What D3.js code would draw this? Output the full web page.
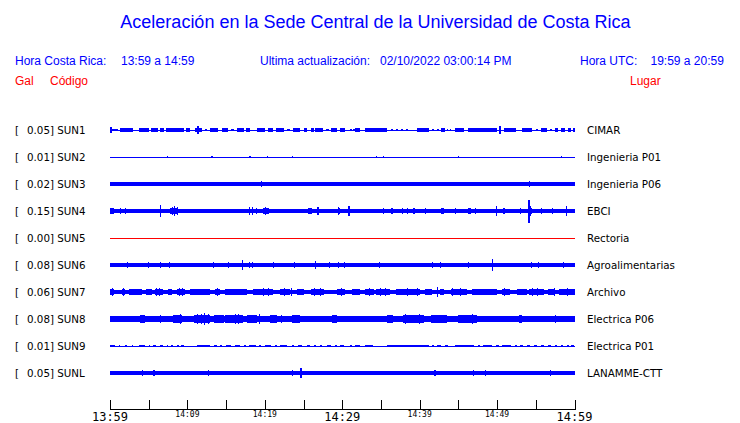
<!DOCTYPE html>
<html><head><meta charset="utf-8">
<script src="https://cdn.jsdelivr.net/npm/d3@7"></script>
<style>html,body{margin:0;padding:0;background:#fff;overflow:hidden}</style>
</head><body><svg id="c" width="740" height="423"></svg>
<script>
// ---- data ----
const codes  = ["SUN1","SUN2","SUN3","SUN4","SUN5","SUN6","SUN7","SUN8","SUN9","SUNL"];
const places = ["CIMAR","Ingenieria P01","Ingenieria P06","EBCI","Rectoria","Agroalimentarias","Archivo","Electrica P06","Electrica P01","LANAMME-CTT"];
const peakGal = [0.05,0.01,0.02,0.15,0.00,0.08,0.06,0.08,0.01,0.05];
// background (continuous) half-amplitude in gal
const baseGal = [0.0065,0.0065,0.022,0.024,0.0065,0.02,0.028,0.036,0.0065,0.02];
const traceColor = ["blue","blue","blue","blue","red","blue","blue","blue","blue","blue"];
// bursts: [start minute, end minute, half-amplitude gal] read from the record
const burstsSUN1 = [[0,0.3,0.045],[0.3,1.0,0.018],[1.3,3.0,0.02],[3.8,5.1,0.02],[5.3,6.2,0.02],[6.4,7.0,0.02],[7.2,9.0,0.02],[9.1,9.6,0.02],[9.8,10.3,0.02],[11.0,11.3,0.02],[11.3,11.5,0.05],[11.5,11.9,0.02],[12.3,12.5,0.015],[12.9,14.0,0.02],[14.5,15.2,0.02],[15.6,16.0,0.018],[16.4,17.3,0.02],[17.6,18.1,0.02],[19.0,20.0,0.02],[20.4,21.0,0.02],[21.4,22.5,0.02],[22.8,23.2,0.018],[23.6,24.6,0.02],[25.0,25.5,0.02],[25.9,26.3,0.03],[26.5,27.5,0.02],[27.9,28.3,0.018],[28.6,29.3,0.02],[29.7,30.4,0.02],[31.0,31.2,0.018],[31.4,31.6,0.018],[31.7,32.3,0.02],[33.0,35.8,0.02],[36.3,36.5,0.015],[36.9,37.2,0.018],[37.6,37.8,0.015],[38.2,38.5,0.015],[39.7,41.2,0.02],[41.6,41.9,0.018],[42.2,42.5,0.018],[42.7,43.3,0.02],[43.5,43.7,0.018],[43.9,44.1,0.018],[44.6,45.7,0.02],[46.3,50.0,0.02],[50.3,50.5,0.05],[50.9,52.4,0.02],[53.2,54.5,0.02],[55.0,55.3,0.018],[55.7,56.4,0.02],[56.8,57.1,0.018],[57.5,57.9,0.02],[58.3,58.8,0.02],[59.2,59.6,0.02],[59.8,60,0.02]];
const burstsSUN2 = [[7.3,7.45,0.012],[13.1,13.25,0.01],[18.0,18.15,0.015],[20.3,20.45,0.01],[23.5,23.65,0.012],[34.4,34.55,0.012],[35.3,35.45,0.01],[44.9,45.05,0.012],[58.2,58.35,0.012]];
const burstsSUN3 = [[8.0,8.15,0.03],[13.1,13.25,0.032],[19.5,19.65,0.035],[54.1,54.25,0.035],[57.3,57.45,0.03]];
const burstsSUN4 = [[0,0.5,0.035],[0.2,0.3,0.045],[1.3,1.45,0.035],[1.9,2.05,0.035],[5.1,5.25,0.03],[6.4,6.55,0.08],[7.8,8.8,0.036],[8.0,8.1,0.055],[8.3,8.4,0.06],[8.6,8.7,0.05],[12.8,12.95,0.03],[15.0,15.15,0.03],[16.6,17.0,0.032],[17.7,19.0,0.032],[17.9,18.0,0.048],[18.4,18.5,0.05],[18.8,18.9,0.045],[19.8,20.5,0.034],[20.0,20.1,0.05],[22.3,22.45,0.03],[24.7,24.85,0.03],[25.6,26.1,0.035],[25.8,25.9,0.045],[26.8,26.95,0.05],[28.4,28.55,0.03],[29.4,29.7,0.035],[29.5,29.6,0.05],[29.7,30.2,0.03],[30.8,30.95,0.06],[31.7,31.85,0.03],[33.5,33.65,0.03],[34.6,34.75,0.03],[35.2,35.35,0.035],[36.3,36.6,0.035],[37.7,37.9,0.045],[38.4,38.55,0.04],[39.2,39.35,0.035],[40.7,40.85,0.035],[42.7,43.1,0.035],[44.6,44.75,0.045],[45.7,45.85,0.03],[46.3,46.6,0.035],[46.4,46.5,0.045],[47.1,47.25,0.035],[49.8,49.95,0.07],[50.7,51.0,0.035],[50.8,50.9,0.045],[51.3,51.45,0.03],[53.0,53.15,0.035],[54.05,54.2,0.15],[54.2,54.5,0.04],[54.3,54.4,0.06],[55.7,55.85,0.035],[57.1,57.25,0.035],[58.9,59.05,0.06]];
const burstsSUN5 = [];
const burstsSUN6 = [[0.9,1.0,0.03],[1.9,2.6,0.03],[2.2,2.3,0.038],[4.7,5.2,0.03],[4.9,5.0,0.042],[6.2,6.7,0.03],[6.4,6.5,0.038],[7.3,7.9,0.03],[7.6,7.7,0.038],[8.6,8.7,0.03],[10.1,10.2,0.025],[11.2,11.3,0.025],[11.6,11.7,0.03],[13.1,13.6,0.03],[13.3,13.4,0.038],[14.0,14.1,0.03],[14.9,15.7,0.03],[15.2,15.3,0.042],[17.0,17.15,0.06],[17.7,18.7,0.032],[17.9,18.0,0.045],[18.4,18.5,0.042],[19.6,19.7,0.03],[20.7,21.3,0.03],[21.0,21.1,0.038],[22.2,22.6,0.032],[23.5,24.1,0.03],[23.8,23.9,0.038],[25.4,25.5,0.03],[26.5,26.65,0.05],[28.0,28.9,0.032],[28.3,28.4,0.042],[29.5,29.6,0.035],[29.7,31.0,0.028],[30.2,30.3,0.035],[32.8,32.9,0.03],[34.5,34.9,0.032],[34.7,34.8,0.042],[37.1,37.2,0.03],[41.6,41.75,0.04],[42.4,42.9,0.032],[42.6,42.7,0.042],[43.7,43.8,0.03],[44.6,45.0,0.032],[46.2,46.3,0.035],[48.2,48.3,0.03],[49.35,49.5,0.08],[49.5,50.0,0.032],[52.2,52.3,0.03],[53.9,56.3,0.028],[54.4,54.5,0.038],[55.3,55.4,0.036],[56.6,56.7,0.03],[58.5,58.6,0.035],[59.6,60,0.03]];
const burstsSUN7 = [[0,0.5,0.04],[0.2,0.3,0.05],[1.5,1.9,0.038],[1.7,1.8,0.048],[2.4,4.1,0.036],[2.9,3.0,0.045],[3.4,3.5,0.045],[4.7,5.4,0.036],[5.8,6.9,0.04],[6.35,6.5,0.058],[6.0,6.1,0.048],[7.5,8.0,0.035],[8.6,9.7,0.042],[8.9,9.0,0.055],[9.3,9.45,0.05],[10.3,12.9,0.034],[11.0,11.1,0.042],[12.0,12.1,0.042],[13.6,14.2,0.04],[13.85,14.0,0.058],[14.9,17.7,0.034],[15.5,15.6,0.042],[16.4,16.5,0.042],[18.5,21.1,0.037],[19.7,19.85,0.058],[19.2,19.3,0.045],[20.4,20.5,0.048],[22.0,23.3,0.036],[22.5,22.6,0.05],[23.4,23.55,0.055],[24.1,25.0,0.036],[25.9,27.6,0.038],[27.1,27.25,0.058],[26.4,26.5,0.048],[29.3,30.4,0.038],[29.8,29.9,0.048],[31.2,32.3,0.035],[33.0,34.1,0.038],[33.5,33.6,0.05],[34.3,36.2,0.038],[34.9,35.0,0.052],[35.5,35.6,0.05],[36.9,40.1,0.035],[38.3,38.4,0.05],[39.6,39.7,0.048],[40.7,41.6,0.036],[42.2,42.35,0.06],[42.6,43.2,0.034],[44.0,46.1,0.037],[44.2,44.3,0.052],[45.2,45.3,0.05],[46.8,50.0,0.034],[47.5,47.6,0.042],[48.8,48.9,0.042],[50.6,51.7,0.038],[50.85,51.0,0.055],[52.6,53.9,0.036],[54.1,56.0,0.037],[54.5,54.6,0.05],[55.2,55.3,0.05],[56.6,57.3,0.034],[57.3,57.4,0.05],[58.0,60,0.036],[59.0,59.1,0.05],[59.9,60,0.045]];
const burstsSUN8 = [[0,1.0,0.042],[1.9,2.8,0.044],[3.9,4.5,0.047],[4.1,4.2,0.056],[6.45,6.55,0.05],[8.2,9.3,0.047],[9.0,9.1,0.065],[10.8,12.9,0.052],[11.3,11.4,0.062],[11.8,11.9,0.066],[12.15,12.25,0.075],[12.6,12.7,0.062],[13.4,14.7,0.05],[14.0,14.1,0.058],[14.9,17.2,0.05],[15.5,15.6,0.058],[16.2,16.3,0.066],[16.5,16.6,0.062],[17.7,19.0,0.046],[19.25,19.4,0.068],[20.7,21.6,0.05],[21.0,21.1,0.058],[22.1,22.25,0.054],[23.5,24.6,0.047],[26.3,27.2,0.044],[28.7,29.3,0.05],[29.7,30.5,0.044],[31.0,31.9,0.044],[33.6,34.1,0.044],[35.8,36.6,0.048],[36.1,36.2,0.056],[37.9,40.5,0.05],[38.1,38.2,0.062],[39.1,39.2,0.058],[39.9,40.0,0.066],[41.4,43.5,0.047],[42.0,42.1,0.056],[45.0,47.4,0.05],[45.6,45.7,0.056],[46.7,46.85,0.06],[48.7,49.6,0.044],[50.8,51.7,0.044],[52.8,53.2,0.05],[57.5,57.6,0.054],[58.6,59.9,0.044]];
const burstsSUN9 = [[0,0.6,0.014],[1.1,1.3,0.014],[1.9,2.2,0.014],[2.8,3.0,0.014],[3.7,4.5,0.014],[5.0,5.2,0.014],[5.6,6.0,0.014],[6.5,6.9,0.014],[7.3,7.5,0.014],[7.9,8.2,0.014],[8.6,8.9,0.014],[9.2,9.5,0.014],[11.2,12.9,0.014],[13.4,13.8,0.014],[14.2,14.5,0.014],[15.0,15.6,0.014],[16.2,16.8,0.014],[17.3,17.6,0.014],[18.0,18.8,0.014],[19.2,19.5,0.014],[20.0,20.8,0.014],[21.3,21.6,0.014],[22.0,22.9,0.014],[23.5,23.8,0.014],[24.3,24.8,0.014],[25.4,25.8,0.014],[26.3,26.6,0.014],[27.1,27.4,0.014],[28.0,28.6,0.014],[29.0,29.3,0.014],[29.7,30.2,0.014],[31.0,31.2,0.014],[31.7,32.3,0.014],[33.0,34.0,0.014],[35.8,41.2,0.014],[41.6,41.9,0.014],[42.3,42.8,0.014],[43.3,43.6,0.014],[44.6,47.0,0.014],[47.5,47.8,0.014],[48.2,49.4,0.014],[49.8,50.2,0.014],[50.6,51.8,0.014],[52.3,52.6,0.014],[53.0,53.3,0.014],[53.8,54.3,0.014],[54.8,55.2,0.014],[55.7,56.0,0.014],[56.6,57.0,0.014],[57.5,57.7,0.014],[58.2,58.5,0.014],[59.0,59.3,0.014],[59.6,59.9,0.014]];
const burstsSUNL = [[4.1,4.25,0.04],[5.6,5.75,0.035],[8.6,8.75,0.03],[12.7,12.85,0.035],[14.7,14.85,0.03],[19.9,20.05,0.03],[23.5,23.65,0.035],[24.6,24.75,0.06],[33.4,33.55,0.03],[36.1,36.25,0.03],[37.2,37.35,0.03],[41.9,42.05,0.04],[46.9,47.05,0.035],[48.4,48.55,0.035],[49.9,50.05,0.03],[51.6,51.75,0.03],[56.8,56.95,0.035]];
const bursts = [burstsSUN1,burstsSUN2,burstsSUN3,burstsSUN4,burstsSUN5,burstsSUN6,burstsSUN7,burstsSUN8,burstsSUN9,burstsSUNL];
const tickMinutes = [0,5,10,15,20,25,30,35,40,45,50,55,60];
const tickLabels = [[0,"13:59",true],[10,"14:09",false],[20,"14:19",false],[30,"14:29",true],[40,"14:39",false],[50,"14:49",false],[60,"14:59",true]];
const titleText = "Aceleración en la Sede Central de la Universidad de Costa Rica";
const crTime = "13:59 a 14:59", utcTime = "19:59 a 20:59", updated = "02/10/2022 03:00:14 PM";

// ---- drawing ----
const svg = d3.select("#c");
const x = d3.scaleLinear().domain([0,60]).range([110,574.5]);
const row = d3.scalePoint().domain(codes).range([130,373]);
const amp = d3.scaleLinear().domain([-0.15,0.15]).range([11.5,-11.5]);
const BLUE = "#0000ff", RED = "#ff0000";
const sans = "'Liberation Sans', Arial, Helvetica, sans-serif";
const dj = "'DejaVu Sans', sans-serif";
const mono = "'DejaVu Sans Mono', monospace";

svg.append("text").attr("x",375.5).attr("y",28).attr("text-anchor","middle")
  .attr("font-family",sans).attr("font-size",18).attr("fill",BLUE).text(titleText);

const hdr = [[15,65,"Hora Costa Rica:",BLUE],[121,65,crTime,BLUE],[260,65,"Ultima actualización:",BLUE],[380,65,updated,BLUE],
  [580,65,"Hora UTC:",BLUE],[650.5,65,utcTime,BLUE],[15,85,"Gal",RED],[50,85,"Código",RED],[630,85,"Lugar",RED]];
svg.selectAll("text.h").data(hdr).join("text").attr("class","h")
  .attr("x",d=>d[0]).attr("y",d=>d[1]).attr("fill",d=>d[3])
  .attr("font-family",sans).attr("font-size",12).text(d=>d[2]);

const g = svg.append("g").attr("shape-rendering","crispEdges");
codes.forEach((c,i)=>{
  const cy = row(c);
  const gr = g.append("g").attr("fill",traceColor[i]==="red"?RED:BLUE);
  const segs = [[0,60,baseGal[i]]].concat(bursts[i]);
  gr.selectAll("rect").data(segs).join("rect")
    .attr("x",d=>x(d[0]))
    .attr("width",d=>Math.max(1,x(d[1])-x(d[0])))
    .attr("y",d=>cy+amp(d[2]))
    .attr("height",d=>Math.max(1,amp(-d[2])-amp(d[2])));
  svg.append("text").attr("x",15).attr("y",cy+4).attr("font-family",dj).attr("font-size",10.3).attr("fill","#000").text("[");
  svg.append("text").attr("x",27).attr("y",cy+4).attr("font-family",dj).attr("font-size",10.3).attr("fill","#000")
    .text(peakGal[i].toFixed(2)+"] "+c);
  svg.append("text").attr("x",587).attr("y",cy+4).attr("font-family",dj).attr("font-size",10.3).attr("fill","#000").text(places[i]);
});

// time axis
const ax = svg.append("g").attr("shape-rendering","crispEdges").attr("stroke","#000");
ax.append("line").attr("x1",x(0)).attr("x2",x(60)).attr("y1",409.5).attr("y2",409.5);
ax.selectAll("line.t").data(tickMinutes).join("line").attr("class","t")
  .attr("x1",d=>Math.round(x(d))+0.5).attr("x2",d=>Math.round(x(d))+0.5).attr("y1",400).attr("y2",409.5);
svg.selectAll("text.tl").data(tickLabels).join("text").attr("class","tl")
  .attr("x",d=>x(d[0])).attr("y",d=>d[2]?420.5:417).attr("text-anchor","middle")
  .attr("font-family",mono).attr("font-size",d=>d[2]?12:8).attr("fill","#000").text(d=>d[1]);
</script></body></html>
